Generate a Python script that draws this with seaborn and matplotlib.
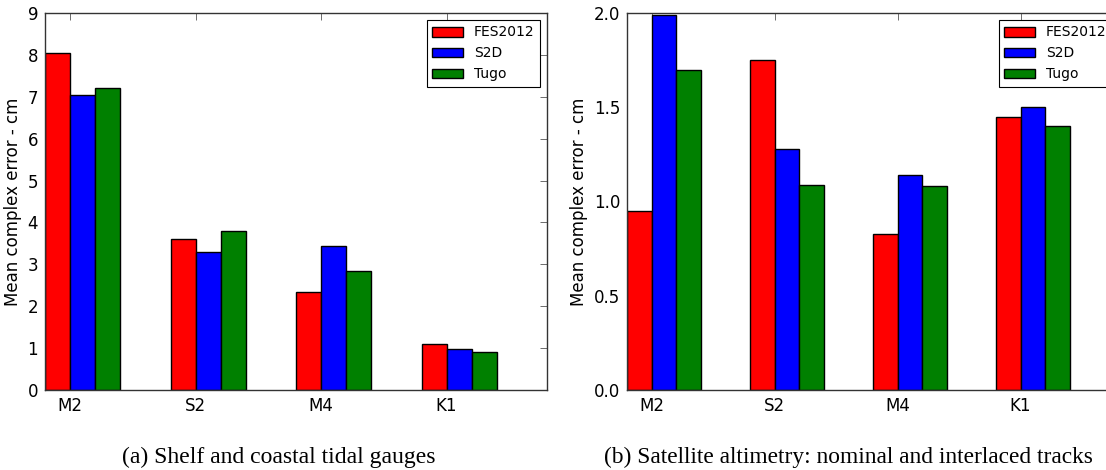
import matplotlib
matplotlib.use("Agg")
import matplotlib.pyplot as plt
import pandas as pd
import seaborn as sns

constituents = ["M2", "S2", "M4", "K1"]
models = ["FES2012", "S2D", "Tugo"]

# (a) tidal gauges, cm
gauges_fes = [8.05, 3.60, 2.35, 1.10]
gauges_s2d = [7.05, 3.30, 3.43, 0.97]
gauges_tugo = [7.20, 3.80, 2.83, 0.90]

# (b) altimetry, cm
alti_fes = [0.95, 1.75, 0.83, 1.45]
alti_s2d = [1.99, 1.28, 1.14, 1.50]
alti_tugo = [1.70, 1.09, 1.08, 1.40]

colors = {"FES2012": "#ff0000", "S2D": "#0000ff", "Tugo": "#008000"}


def long_frame(fes, s2d, tugo):
    rows = []
    for name, vals in zip(models, [fes, s2d, tugo]):
        for c, v in zip(constituents, vals):
            rows.append({"constituent": c, "model": name, "error": v})
    return pd.DataFrame(rows)


def panel(ax, data, ymax, yticks, yfmt):
    sns.barplot(data=data, x="constituent", y="error", hue="model",
                order=constituents, hue_order=models, palette=colors,
                width=0.6, gap=0, edgecolor="black", linewidth=1,
                saturation=1, errorbar=None, ax=ax)
    ax.set_xlim(-0.3, 3.7)
    ax.set_ylim(0, ymax)
    ax.set_xticks([i - 0.1 for i in range(len(constituents))])
    ax.set_xticklabels(constituents)
    ax.set_yticks(yticks)
    ax.set_yticklabels([yfmt.format(t) for t in yticks])
    ax.set_xlabel("")
    ax.set_ylabel("Mean complex error - cm", fontsize=12, color="black")
    ax.tick_params(direction="in", top=True, right=True, labelsize=12,
                   length=5, width=0.6, color="#555555", labelcolor="black", pad=5)
    for s in ax.spines.values():
        s.set_linewidth(1)
        s.set_color("#333333")
    h, l = ax.get_legend_handles_labels()
    leg = ax.legend(h, l, loc="upper right", fontsize=10, fancybox=False,
                    framealpha=1, edgecolor="black", borderaxespad=0.5,
                    handlelength=2.2, handletextpad=0.8, labelcolor="black")
    leg.get_frame().set_linewidth(0.8)


sns.set_style("white")
plt.rcParams["font.family"] = ["DejaVu Sans"]

fig = plt.figure(figsize=(11.06, 4.70), dpi=100)
ax1 = fig.add_axes([45 / 1106, 80 / 470, 502 / 1106, 377 / 470])
ax2 = fig.add_axes([627 / 1106, 80 / 470, 492 / 1106, 377 / 470])

panel(ax1, long_frame(gauges_fes, gauges_s2d, gauges_tugo), 9, list(range(10)), "{:d}")
panel(ax2, long_frame(alti_fes, alti_s2d, alti_tugo), 2.0, [0.0, 0.5, 1.0, 1.5, 2.0], "{:.1f}")

fig.text(279 / 1106, 1 - 457 / 470, "(a) Shelf and coastal tidal gauges",
         ha="center", va="center", fontsize=17, family="Liberation Serif", color="black")
fig.text(848 / 1106, 1 - 457 / 470, "(b) Satellite altimetry: nominal and interlaced tracks",
         ha="center", va="center", fontsize=16.8, family="Liberation Serif", color="black")

fig.savefig("out.png", dpi=100)
